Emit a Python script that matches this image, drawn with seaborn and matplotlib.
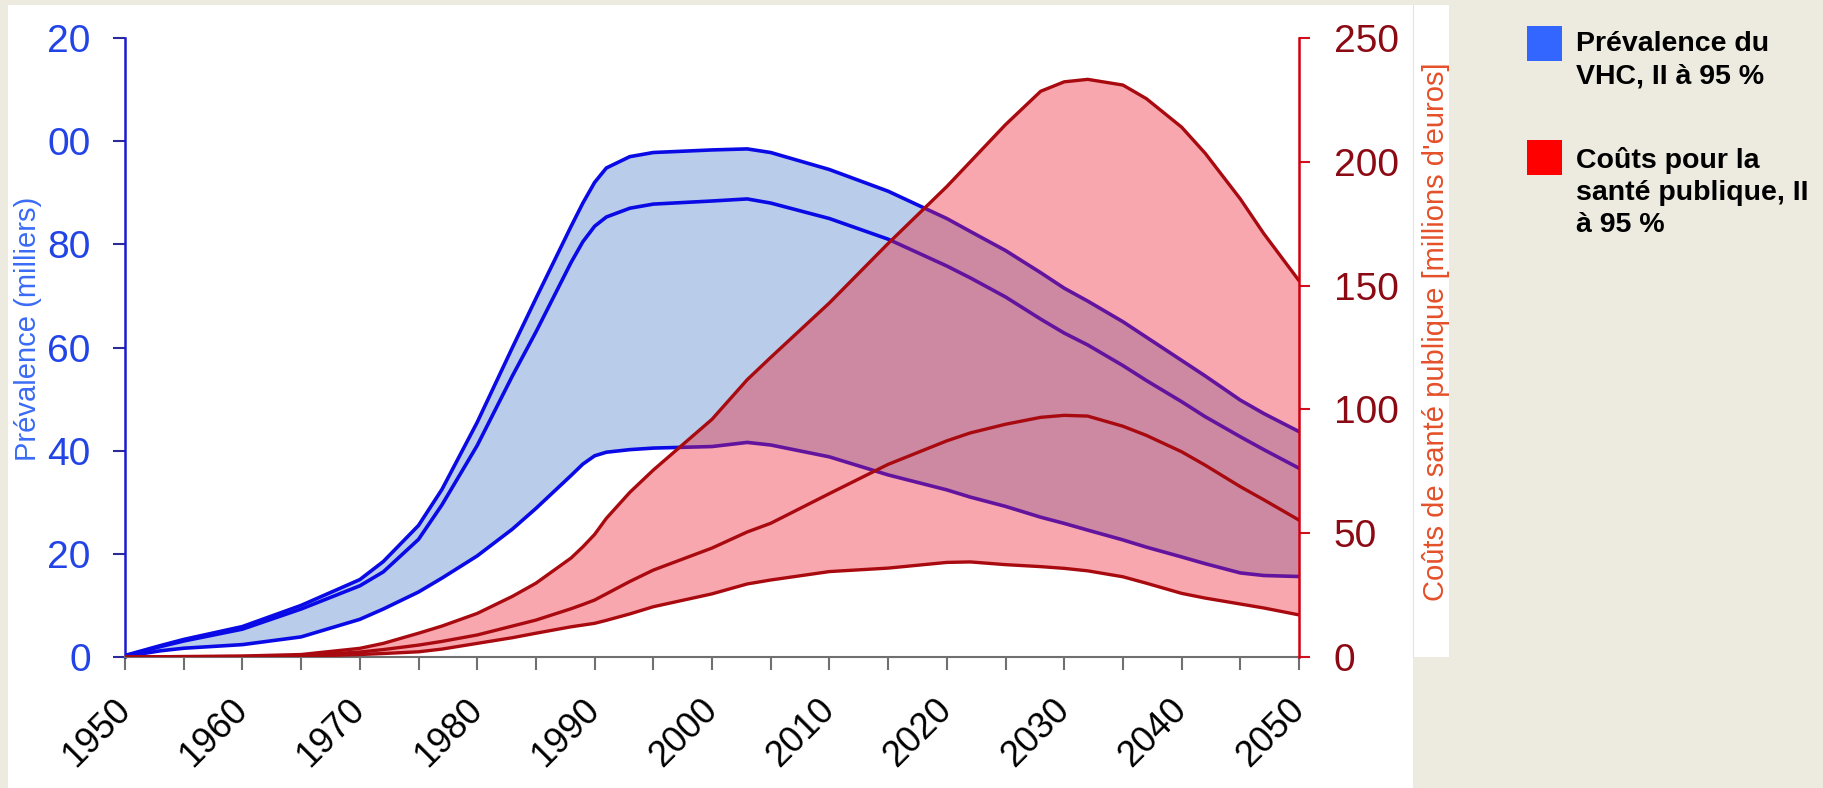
import matplotlib
matplotlib.use("Agg")
import matplotlib.pyplot as plt
import seaborn as sns
from matplotlib.patches import Rectangle
from matplotlib.lines import Line2D

# values
years = [1950, 1953, 1955, 1960, 1965, 1970, 1972, 1975, 1977, 1980, 1983, 1985,
         1988, 1989, 1990, 1991, 1993, 1995, 2000, 2003, 2005, 2010, 2015, 2020,
         2022, 2025, 2028, 2030, 2032, 2035, 2037, 2040, 2042, 2045, 2047, 2050]

# prevalence (thousands), left axis
prev_hi = [0.3, 2.2, 3.4, 5.9, 10.0, 15.0, 18.5, 25.5, 32.5, 45.5, 60.0, 69.5,
           83.5, 88.0, 92.0, 94.8, 97.0, 97.8, 98.3, 98.5, 97.8, 94.5, 90.3, 85.0,
           82.5, 78.8, 74.5, 71.5, 69.0, 65.0, 62.0, 57.5, 54.5, 49.8, 47.2, 43.7]
prev_mid = [0.2, 2.0, 3.1, 5.4, 9.3, 13.8, 16.5, 22.8, 29.5, 41.0, 54.5, 63.0,
            76.5, 80.5, 83.5, 85.3, 87.0, 87.8, 88.4, 88.8, 88.0, 85.0, 81.0, 75.8,
            73.5, 69.8, 65.5, 62.8, 60.5, 56.5, 53.6, 49.5, 46.6, 42.7, 40.2, 36.6]
prev_lo = [0.1, 1.2, 1.7, 2.4, 3.9, 7.3, 9.3, 12.6, 15.3, 19.6, 24.8, 28.8,
           35.2, 37.4, 39.0, 39.7, 40.2, 40.5, 40.8, 41.6, 41.1, 38.8, 35.3, 32.4,
           31.0, 29.2, 27.1, 25.9, 24.6, 22.7, 21.3, 19.4, 18.1, 16.3, 15.8, 15.6]

# public health costs (million euros), right axis
cost_hi = [0, 0.1, 0.2, 0.4, 1.0, 3.5, 5.5, 9.6, 12.5, 17.6, 24.5, 29.8,
           40.0, 44.5, 49.5, 56.0, 66.5, 75.5, 96.0, 112.0, 121.0, 143.0, 167.0, 190.0,
           200.0, 215.0, 228.5, 232.3, 233.3, 231.0, 225.5, 214.0, 203.5, 185.0, 171.0, 152.0]
cost_mid = [0, 0, 0.1, 0.2, 0.5, 2.0, 3.0, 4.8, 6.3, 8.9, 12.5, 14.9,
            19.5, 21.2, 23.0, 25.5, 30.5, 35.1, 44.0, 50.5, 54.0, 66.0, 77.8, 87.3,
            90.5, 94.0, 96.8, 97.6, 97.3, 93.2, 89.5, 82.9, 77.5, 68.8, 63.5, 55.3]
cost_lo = [0, 0, 0, 0.1, 0.3, 1.0, 1.4, 2.1, 3.2, 5.5, 7.8, 9.6,
           12.2, 12.9, 13.6, 14.8, 17.4, 20.3, 25.5, 29.5, 31.1, 34.5, 35.9, 38.2,
           38.4, 37.3, 36.5, 35.8, 34.8, 32.4, 29.8, 25.7, 23.8, 21.4, 19.8, 17.0]

tick_years = list(range(1950, 2051, 5))
tick_labels = [str(y) if y % 10 == 0 else "" for y in tick_years]
left_ticks = [0, 20, 40, 60, 80, 100, 120]
left_labels = ["0", "20", "40", "60", "80", "00", "20"]
right_ticks = [0, 50, 100, 150, 200, 250]

sns.set_style("white")
plt.rcParams["font.family"] = ["Liberation Sans", "DejaVu Sans"]

W, H = 1824, 788
fig = plt.figure(figsize=(W / 100, H / 100), dpi=100, facecolor="#EDEAE0")


def fx(px):
    return px / W


def fy(py):
    return 1 - py / H


# white panels behind the chart
fig.patches.append(Rectangle((fx(8), 0), fx(1413) - fx(8), fy(5), transform=fig.transFigure,
                             facecolor="white", edgecolor="none", zorder=-10))
fig.patches.append(Rectangle((fx(1413), fy(657)), fx(1449) - fx(1413), fy(5) - fy(657),
                             transform=fig.transFigure, facecolor="white", edgecolor="none", zorder=-10))
fig.lines.append(Line2D([fx(1413), fx(1413)], [fy(657), fy(5)], color="#E2E2E2", lw=0.8,
                        transform=fig.transFigure, zorder=-9))

ax = fig.add_axes([fx(125), fy(657), fx(1299) - fx(125), fy(38) - fy(657)])
ax.set_facecolor("none")

ax.fill_between(years, prev_lo, prev_hi, color="#B9CDEB", lw=0, zorder=1)
for s in [prev_hi, prev_mid, prev_lo]:
    sns.lineplot(x=years, y=s, ax=ax, color="#0A0AE6", lw=2.6, zorder=2)

ax2 = ax.twinx()
ax2.fill_between(years, cost_lo, cost_hi, color=(235 / 255, 37 / 255, 52 / 255), alpha=0.4, lw=0, zorder=1)
for s in [cost_hi, cost_mid, cost_lo]:
    sns.lineplot(x=years, y=s, ax=ax2, color="#A80A10", lw=2.4, zorder=2)

ax.set_xlim(1950, 2050)
ax.set_ylim(0, 120)
ax2.set_ylim(0, 250)
ax.set_xlabel("")
ax.set_ylabel("")
ax2.set_ylabel("")

ax.set_xticks(tick_years, tick_labels, fontsize=26, rotation=45, ha="right", va="center",
              rotation_mode="anchor")
ax.tick_params(axis="x", bottom=True, direction="out", length=9.4, width=1.5,
               color="#707070", labelcolor="black", pad=25)
ax.set_yticks(left_ticks, left_labels)
ax.tick_params(axis="y", left=True, direction="out", length=8.6, width=1.5, color="#2A2A9A",
               labelsize=28, labelcolor="#2244E6", pad=16)
ax2.set_yticks(right_ticks)
ax2.tick_params(axis="y", right=True, direction="out", length=8, width=1.5, color="#D0101C",
                labelsize=28, labelcolor="#8C0A14", pad=17)

for name in ["top", "right"]:
    ax.spines[name].set_visible(False)
ax.spines["left"].set_color("#1A1AD0")
ax.spines["left"].set_linewidth(1.8)
ax.spines["bottom"].set_color("#707070")
ax.spines["bottom"].set_linewidth(1.5)
for name in ["top", "left", "bottom"]:
    ax2.spines[name].set_visible(False)
ax2.spines["right"].set_color("#D00010")
ax2.spines["right"].set_linewidth(1.8)

# axis titles
fig.text(fx(28), fy(329), "Prévalence (milliers)", rotation=90, color="#3A6BF5",
         fontsize=21, ha="center", va="center")
fig.text(fx(1436), fy(332), "Coûts de santé publique [millions d'euros]", rotation=90,
         color="#E4502A", fontsize=21, ha="center", va="center")

# legend (baseline refers to the last line of each block)
fig.patches.append(Rectangle((fx(1527), fy(61)), fx(1562) - fx(1527), fy(26) - fy(61),
                             transform=fig.transFigure, facecolor="#3366FF", edgecolor="none"))
fig.patches.append(Rectangle((fx(1527), fy(175)), fx(1562) - fx(1527), fy(140) - fy(175),
                             transform=fig.transFigure, facecolor="#FF0000", edgecolor="none"))
fig.text(fx(1576), fy(83), "Prévalence du\nVHC, II à 95 %", fontsize=20.5, weight="bold",
         color="black", ha="left", va="baseline", linespacing=1.31)
fig.text(fx(1576), fy(232), "Coûts pour la\nsanté publique, II\nà 95 %", fontsize=20.5,
         weight="bold", color="black", ha="left", va="baseline", linespacing=1.31)

fig.savefig("out.png", dpi=100, facecolor=fig.get_facecolor())
